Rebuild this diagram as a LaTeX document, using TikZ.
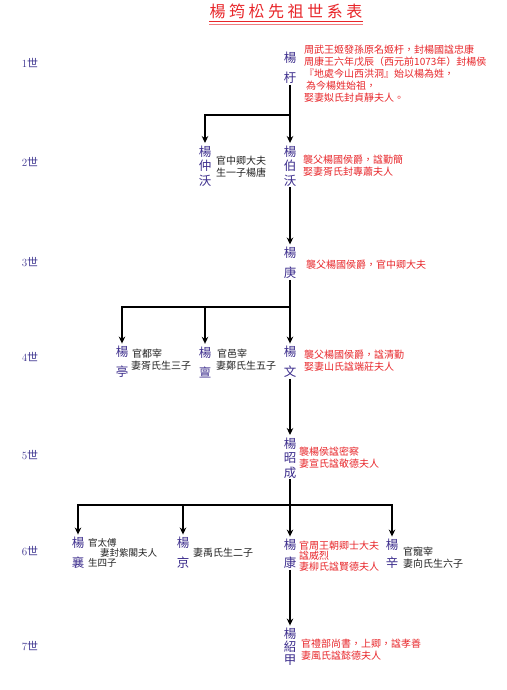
\documentclass[tikz,border=0pt]{standalone}
\usepackage{fontspec}
\newfontfamily\cjk{Noto Sans CJK TC}
\newfontfamily\cjktitle{Noto Sans CJK TC}[LetterSpace=22]
\usetikzlibrary{arrows.meta}
\definecolor{myred}{HTML}{E8262A}
\definecolor{namecol}{HTML}{3B2C8C}
\definecolor{gencol}{HTML}{3E3590}
\definecolor{textblack}{HTML}{222222}
\begin{document}
\begin{tikzpicture}[x=1pt,y=-1pt,
  line/.style={line width=1.4pt,black},
  arr/.style={line,-{Stealth[length=7pt,width=6.5pt]},shorten >=1.5pt},
  vname/.style={font=\cjk\fontsize{12.5}{20}\selectfont,text=namecol,align=center,inner sep=1pt},
  vnamemid/.style={vname,font=\cjk\fontsize{12.5}{18}\selectfont},
  vname3/.style={vname,font=\cjk\fontsize{12.5}{14.5}\selectfont},
  redtxt/.style={font=\cjk\fontsize{10}{12}\selectfont,text=myred,align=left,anchor=west,inner sep=0pt},
  blktxt/.style={font=\cjk\fontsize{10}{12}\selectfont,text=textblack,align=left,anchor=west,inner sep=0pt},
  gen/.style={font=\fontsize{11}{13}\selectfont,text=gencol,inner sep=0pt}
]
\fill[white] (0,0) rectangle (506,690);
\useasboundingbox (0,0) rectangle (506,690);

% title
\node[font=\cjktitle\fontsize{16}{18}\selectfont,text=myred,inner sep=0pt] (title) at (286,11) {楊筠松先祖世系表};
\draw[myred,line width=1.5pt] (title.south west |- 0,21.5) coordinate (ul1) -- (title.south east |- 0,21.5) coordinate (ul2);
\draw[myred!60,line width=0.6pt] ([yshift=-2.8pt]ul1) -- ([yshift=-2.8pt]ul2);

% generation labels
\node[gen] (g1) at (30,63) {1{\cjk 世}};
\node[gen] (g2) at (30,162) {2{\cjk 世}};
\node[gen] (g3) at (30,262) {3{\cjk 世}};
\node[gen] (g4) at (30,357) {4{\cjk 世}};
\node[gen] (g5) at (30,455) {5{\cjk 世}};
\node[gen] (g6) at (30,551) {6{\cjk 世}};
\node[gen] (g7) at (30,646) {7{\cjk 世}};

% names
\node[vname] (n1) at (290,68) {楊\\杅};
\node[vname3] (n2a) at (205,166) {楊\\仲\\沃};
\node[vname3] (n2b) at (290,166) {楊\\伯\\沃};
\node[vname] (n3) at (290,263) {楊\\庚};
\node[vname] (n4a) at (122,362) {楊\\亭};
\node[vname] (n4b) at (205,362) {楊\\亶};
\node[vname] (n4c) at (290,362) {楊\\文};
\node[vname3] (n5) at (290,458) {楊\\昭\\成};
\node[vname] (n6a) at (78,553) {楊\\襄};
\node[vname] (n6b) at (183,553) {楊\\京};
\node[vnamemid] (n6c) at (290,554) {楊\\康};
\node[vnamemid] (n6d) at (392,554) {楊\\辛};
\node[vname3,font=\cjk\fontsize{12.5}{13}\selectfont] (n7) at (290,647) {楊\\紹\\甲};

% descriptions
\node[redtxt] (t1) at (304,74) {周武王姬發孫原名姬杅，封楊國諡忠康\\周康王六年戊辰（西元前1073年）封楊侯\\『地處今山西洪洞』始以楊為姓，\\\hspace*{2pt}為今楊姓始祖，\\娶妻姒氏封貞靜夫人。};
\node[blktxt] (t2a) at (216,167) {官中卿大夫\\生一子楊唐};
\node[redtxt] (t2b) at (303,166) {襲父楊國侯爵，諡勤簡\\娶妻胥氏封專蕭夫人};
\node[redtxt] (t3) at (306,265) {襲父楊國侯爵，官中卿大夫};
\node[blktxt] (t4a) at (131,360) {\hspace*{1pt}官都宰\\妻胥氏生三子};
\node[blktxt] (t4b) at (216,360) {\hspace*{1pt}官邑宰\\妻鄭氏生五子};
\node[redtxt] (t4c) at (304,361) {襲父楊國侯爵，諡清勤\\娶妻山氏諡端莊夫人};
\node[redtxt] (t5) at (299,458) {襲楊侯諡密察\\妻宣氏諡敬德夫人};
\node[blktxt,font=\cjk\fontsize{9.5}{10}\selectfont] (t6a) at (88,553) {官太傅\\\hspace*{12pt}妻封紫閣夫人\\生四子};
\node[blktxt] (t6b) at (193,553) {妻禹氏生二子};
\node[redtxt,font=\cjk\fontsize{10}{10.5}\selectfont] (t6c) at (299,556) {官周王朝卿士大夫\\諡威烈\\妻柳氏諡賢德夫人};
\node[blktxt] (t6d) at (403,558) {官寵宰\\妻向氏生六子};
\node[redtxt] (t7) at (301,650) {官禮部尚書，上卿，諡孝善\\妻風氏諡懿德夫人};

% connectors
\coordinate (j1) at (290,115);
\draw[line] (n1) -- (j1);
\draw[arr] (j1) -- (n2b);
\draw[arr] (j1) -| (n2a);

\draw[arr] (n2b) -- (n3);

\coordinate (j3) at (290,307);
\draw[line] (n3) -- (j3);
\draw[arr] (j3) -- (n4c);
\draw[arr] (j3) -| (n4b);
\draw[arr] (j3) -| (n4a);

\draw[arr] (n4c) -- (n5);

\coordinate (j5) at (290,505);
\draw[line] (n5) -- (j5);
\draw[arr] (j5) -- (n6c);
\draw[arr] (j5) -| (n6a);
\draw[arr] (j5) -| (n6b);
\draw[arr] (j5) -| (n6d);

\draw[arr] (n6c) -- (n7);
\end{tikzpicture}
\end{document}
